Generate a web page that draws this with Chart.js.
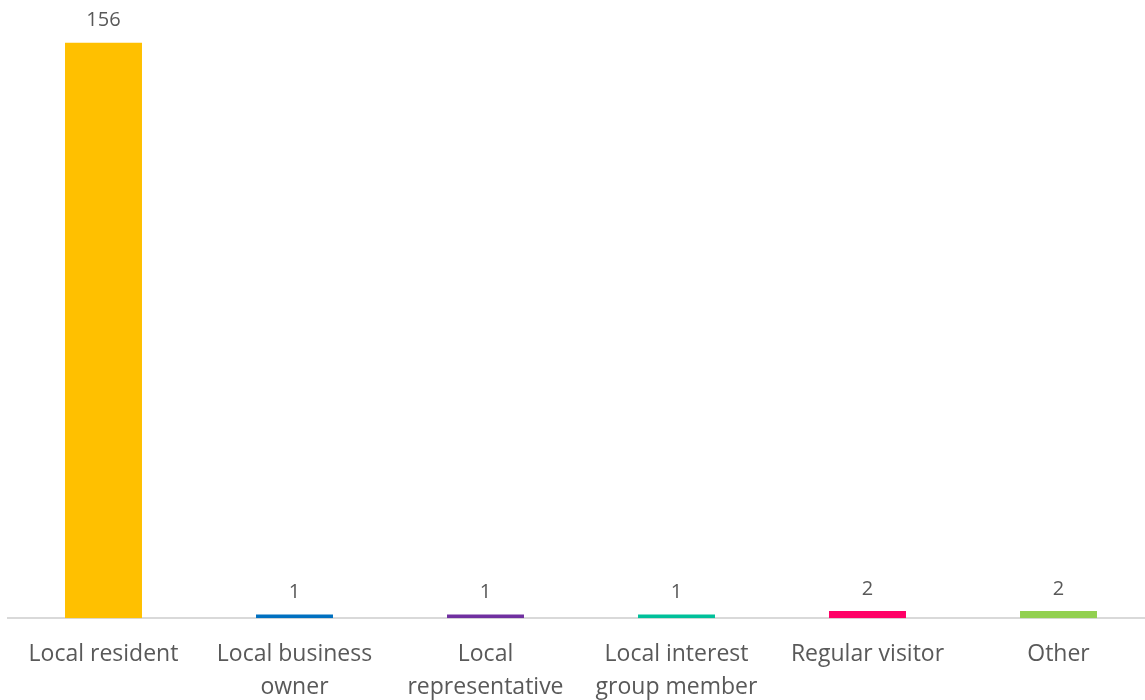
<!DOCTYPE html>
<html>
<head>
<meta charset="utf-8">
<style>
  html, body { margin: 0; padding: 0; background: #ffffff; overflow: hidden; }
  #wrap { width: 1154px; height: 700px; position: relative; }
</style>
<script src="https://cdn.jsdelivr.net/npm/chart.js@4.4.1/dist/chart.umd.min.js"></script>
</head>
<body>
<div id="wrap"><canvas id="chart"></canvas></div>
<script>
// Respondent types and their counts
const categories = [
  'Local resident',
  ['Local business', 'owner'],
  ['Local', 'representative'],
  ['Local interest', 'group member'],
  'Regular visitor',
  'Other'
];
const counts = [156, 1, 1, 1, 2, 2];
const barColors = ['#FFC000', '#0070C0', '#7030A0', '#00C09A', '#FF0066', '#92D050'];

const FONT = '"Open Sans", Lato, "Liberation Sans", sans-serif';
const TEXT = '#595959';

// Writes each bar's value just above it
const valueLabels = {
  id: 'valueLabels',
  afterDatasetsDraw(chart) {
    const ctx = chart.ctx;
    const meta = chart.getDatasetMeta(0);
    ctx.save();
    ctx.font = '20px ' + FONT;
    ctx.fillStyle = TEXT;
    ctx.textAlign = 'center';
    ctx.textBaseline = 'bottom';
    meta.data.forEach((bar, i) => {
      ctx.fillText(String(counts[i]), bar.x, bar.y - 12);
    });
    ctx.restore();
  }
};

new Chart(document.getElementById('chart'), {
  type: 'bar',
  data: {
    labels: categories,
    datasets: [{
      data: counts,
      backgroundColor: barColors,
      borderWidth: 0,
      barPercentage: 0.403,
      categoryPercentage: 1.0
    }]
  },
  options: {
    responsive: true,
    maintainAspectRatio: false,
    animation: false,
    layout: { padding: { left: 8, right: 0, top: 28, bottom: -23 } },
    plugins: {
      legend: { display: false },
      tooltip: { enabled: false }
    },
    scales: {
      x: {
        grid: { display: false, drawTicks: false },
        border: { display: true, color: '#D9D9D9', width: 2 },
        ticks: {
          color: TEXT,
          font: { family: FONT, size: 23, lineHeight: 1.45 },
          padding: 19,
          maxRotation: 0,
          autoSkip: false
        }
      },
      y: {
        display: false,
        min: 0,
        max: 160
      }
    }
  },
  plugins: [valueLabels]
});
</script>
</body>
</html>
